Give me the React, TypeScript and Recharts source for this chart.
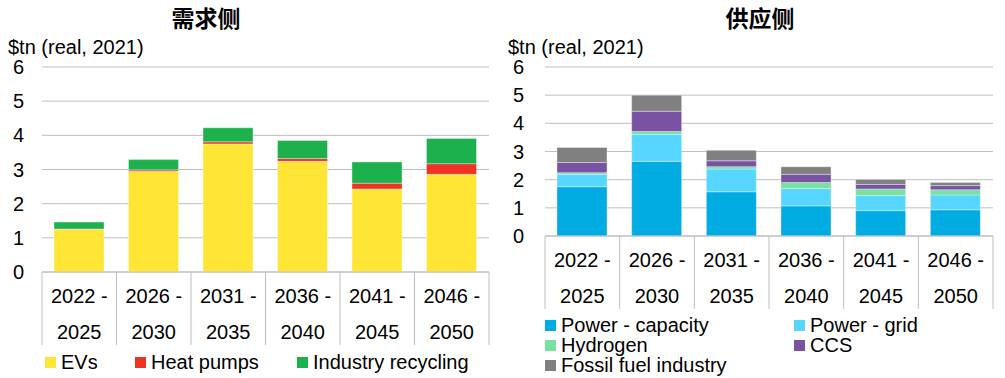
import { type ReactElement } from 'react'
import { BarChart, Bar, XAxis, YAxis, CartesianGrid } from 'recharts'

const periodStart = ['2022', '2026', '2031', '2036', '2041', '2046']
const periodEnd = ['2025', '2030', '2035', '2040', '2045', '2050']
const yTicks = [0, 1, 2, 3, 4, 5, 6]

// demand side, $tn
const evs = [1.25, 2.95, 3.75, 3.24, 2.43, 2.86]
const heatPumps = [0.01, 0.04, 0.06, 0.08, 0.17, 0.31]
const industryRecycling = [0.2, 0.3, 0.41, 0.53, 0.62, 0.74]

// supply side, $tn
const powerCapacity = [1.75, 2.65, 1.57, 1.07, 0.9, 0.93]
const powerGrid = [0.44, 0.96, 0.81, 0.62, 0.54, 0.53]
const hydrogen = [0.06, 0.1, 0.08, 0.21, 0.23, 0.18]
const ccs = [0.36, 0.72, 0.21, 0.29, 0.16, 0.15]
const fossilFuel = [0.53, 0.57, 0.37, 0.27, 0.18, 0.11]

const FONT = '"Liberation Sans", Arial, sans-serif'
const GRID = '#BFBFBF'

const demandSeries = [
  { key: 'evs', name: 'EVs', color: '#FFE636', values: evs },
  { key: 'heatPumps', name: 'Heat pumps', color: '#EE3226', values: heatPumps },
  { key: 'industryRecycling', name: 'Industry recycling', color: '#1DB14E', values: industryRecycling },
]

const supplySeries = [
  { key: 'powerCapacity', name: 'Power - capacity', color: '#00ACE2', values: powerCapacity },
  { key: 'powerGrid', name: 'Power - grid', color: '#57D6FF', values: powerGrid },
  { key: 'hydrogen', name: 'Hydrogen', color: '#78E0A0', values: hydrogen },
  { key: 'ccs', name: 'CCS', color: '#7853A3', values: ccs },
  { key: 'fossilFuel', name: 'Fossil fuel industry', color: '#808080', values: fossilFuel },
]

type Series = typeof demandSeries

function buildRows(series: Series) {
  return periodStart.map((start, i) => {
    const row: Record<string, string | number> = { period: `${start} - ${periodEnd[i]}`, start, end: periodEnd[i] }
    series.forEach((s) => {
      row[s.key] = s.values[i]
    })
    return row
  })
}

function CategoryTick(props: any): ReactElement {
  const { x, y, index, visibleTicksCount, band } = props
  const count = visibleTicksCount ?? periodStart.length
  const w = band
  const i = index ?? 0
  return (
    <g>
      <line x1={x - w / 2} y1={y} x2={x - w / 2} y2={y + 73} stroke={GRID} strokeWidth={1} />
      {i === count - 1 && (
        <line x1={x + w / 2} y1={y} x2={x + w / 2} y2={y + 73} stroke={GRID} strokeWidth={1} />
      )}
      <text x={x} y={y + 24} textAnchor="middle" dominantBaseline="central" fill="#000" fontSize={20} fontFamily={FONT}>
        {periodStart[i]} -
      </text>
      <text x={x} y={y + 60} textAnchor="middle" dominantBaseline="central" fill="#000" fontSize={20} fontFamily={FONT}>
        {periodEnd[i]}
      </text>
    </g>
  )
}

interface PanelProps {
  title: string
  titleCenter: number
  series: Series
  width: number
  axisWidth: number
  marginRight: number
  bottom: number
}

function Panel({ title, titleCenter, series, width, axisWidth, marginRight, bottom }: PanelProps): ReactElement {
  const data = buildRows(series)
  const plotWidth = width - axisWidth - marginRight
  const band = plotWidth / periodStart.length
  return (
    <div style={{ position: 'relative', width, height: 378 }}>
      <div
        style={{
          position: 'absolute',
          top: 4,
          left: titleCenter - 100,
          width: 200,
          textAlign: 'center',
          fontFamily: '"Noto Sans CJK SC", sans-serif',
          fontWeight: 700,
          fontSize: 23,
          lineHeight: '27px',
          color: '#000',
        }}
      >
        {title}
      </div>
      <div
        style={{
          position: 'absolute',
          top: 36,
          left: 8,
          fontFamily: FONT,
          fontSize: 20,
          lineHeight: '23px',
          color: '#000',
          whiteSpace: 'nowrap',
        }}
      >
        $tn (real, 2021)
      </div>
      <BarChart
        width={width}
        height={378}
        data={data}
        margin={{ top: 67, right: marginRight, bottom: bottom - 75, left: 0 }}
        barSize={50}
        style={{ position: 'absolute', top: 0, left: 0 }}
      >
        <CartesianGrid vertical={false} stroke={GRID} strokeWidth={1} />
        <XAxis
          dataKey="period"
          height={75}
          interval={0}
          axisLine={{ stroke: GRID }}
          tickLine={false}
          tickSize={0}
          tickMargin={0}
          tick={<CategoryTick band={band} />}
        />
        <YAxis
          width={axisWidth}
          domain={[0, 6]}
          ticks={yTicks}
          interval={0}
          axisLine={false}
          tickLine={false}
          tickSize={0}
          tickMargin={axisWidth - 24}
          tick={{ fill: '#000', fontSize: 20, fontFamily: FONT }}
        />
        {series.map((s) => (
          <Bar
            key={s.key}
            dataKey={s.key}
            name={s.name}
            stackId="a"
            fill={s.color}
            stroke="#ffffff"
            strokeOpacity={0.35}
            strokeWidth={1}
            isAnimationActive={false}
          />
        ))}
      </BarChart>
    </div>
  )
}

function Swatch({ color, label, left, top }: { color: string; label: string; left: number; top: number }): ReactElement {
  return (
    <div
      style={{
        position: 'absolute',
        left,
        top,
        display: 'flex',
        alignItems: 'center',
        fontFamily: FONT,
        fontSize: 20,
        lineHeight: '20px',
        whiteSpace: 'nowrap',
        color: '#000',
      }}
    >
      <span style={{ display: 'inline-block', width: 11, height: 11, background: color, marginRight: 5 }} />
      {label}
    </div>
  )
}

export default function App(): ReactElement {
  return (
    <div style={{ position: 'absolute', top: 0, left: 0, width: 1005, height: 378, background: '#fff', overflow: 'hidden' }}>
      <div style={{ position: 'absolute', top: 0, left: 0 }}>
        <Panel title="需求侧" titleCenter={206} series={demandSeries} width={500} axisWidth={42} marginRight={11} bottom={106} />
        <Swatch color={demandSeries[0].color} label={demandSeries[0].name} left={45} top={352} />
        <Swatch color={demandSeries[1].color} label={demandSeries[1].name} left={135} top={352} />
        <Swatch color={demandSeries[2].color} label={demandSeries[2].name} left={297} top={352} />
      </div>
      <div style={{ position: 'absolute', top: 0, left: 500 }}>
        <Panel title="供应侧" titleCenter={260} series={supplySeries} width={505} axisWidth={45} marginRight={12} bottom={142} />
        <Swatch color={supplySeries[0].color} label={supplySeries[0].name} left={45} top={315} />
        <Swatch color={supplySeries[1].color} label={supplySeries[1].name} left={294} top={315} />
        <Swatch color={supplySeries[2].color} label={supplySeries[2].name} left={45} top={335} />
        <Swatch color={supplySeries[3].color} label={supplySeries[3].name} left={294} top={335} />
        <Swatch color={supplySeries[4].color} label={supplySeries[4].name} left={45} top={355} />
      </div>
    </div>
  )
}
